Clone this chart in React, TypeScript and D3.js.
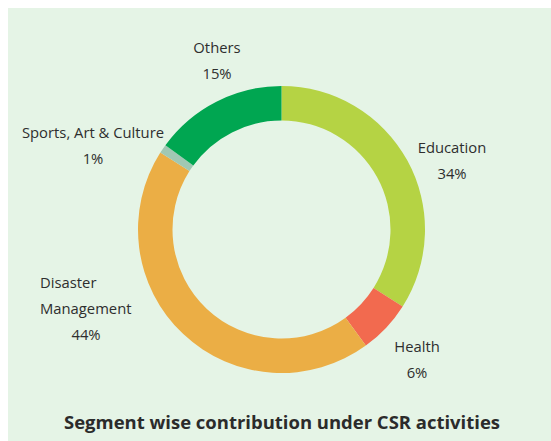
import React from "react";
import * as d3 from "d3";

const categories = ["Education", "Health", "Disaster Management", "Sports, Art & Culture", "Others"];
const values = [34, 6, 44, 1, 15];
const colors = ["#b5d344", "#f26a4f", "#ebae45", "#a0c8b3", "#00a651"];
const title = "Segment wise contribution under CSR activities";

type Lbl = { lines: { t: string; x: number; y: number; anchor: string }[] };
const labelPos: Lbl[] = [
  { lines: [{ t: "Education", x: 452, y: 153, anchor: "middle" }, { t: "34%", x: 452, y: 179, anchor: "middle" }] },
  { lines: [{ t: "Health", x: 417, y: 352, anchor: "middle" }, { t: "6%", x: 417, y: 378, anchor: "middle" }] },
  { lines: [{ t: "Disaster", x: 40, y: 288, anchor: "start" }, { t: "Management", x: 40, y: 314, anchor: "start" }, { t: "44%", x: 86, y: 340, anchor: "middle" }] },
  { lines: [{ t: "Sports, Art & Culture", x: 93, y: 138, anchor: "middle" }, { t: "1%", x: 93, y: 164, anchor: "middle" }] },
  { lines: [{ t: "Others", x: 217, y: 53, anchor: "middle" }, { t: "15%", x: 217, y: 79, anchor: "middle" }] },
];

export default function App() {
  const W = 551, H = 441;
  const cx = 281.5, cy = 229.5, R = 143.5, r = 109;
  const pie = d3.pie<number>().sort(null).value((d) => d)(values);
  const arc = d3.arc<d3.PieArcDatum<number>>().innerRadius(r).outerRadius(R);
  return (
    <svg width={W} height={H} style={{ position: "absolute", left: 0, top: 0 }}>
      <rect x={8} y={8} width={W - 8} height={H - 8} fill="#e5f4e6" />
      <g transform={`translate(${cx},${cy})`}>
        {pie.map((p, i) => (
          <path key={categories[i]} d={arc(p) || ""} fill={colors[i]} />
        ))}
      </g>
      <g fontFamily="'Open Sans', sans-serif" fontSize={14.8} fill="#2e2e2e">
        {labelPos.map((l, i) =>
          l.lines.map((ln, j) => (
            <text key={`${i}-${j}`} x={ln.x} y={ln.y} textAnchor={ln.anchor}>
              {ln.t}
            </text>
          ))
        )}
      </g>
      <text x={64} y={429} textAnchor="start" textLength={436} lengthAdjust="spacingAndGlyphs" fontFamily="'Open Sans', sans-serif" fontWeight="bold" fontSize={18.5} fill="#2b2b2b">
        {title}
      </text>
    </svg>
  );
}
